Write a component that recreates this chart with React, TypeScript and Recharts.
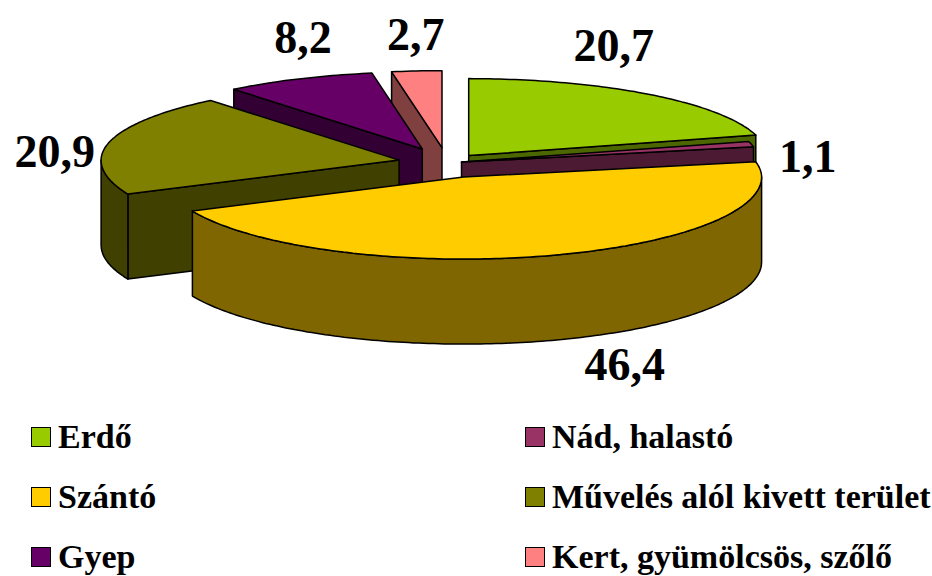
import React from 'react';
import { PieChart, Pie, Legend } from 'recharts';

const categories = ['Erdő', 'Nád, halastó', 'Szántó', 'Művelés alól kivett terület', 'Gyep', 'Kert, gyümölcsös, szőlő'];
const shares = [20.7, 1.1, 46.4, 20.9, 8.2, 2.7];
const valueLabels = ['20,7', '1,1', '46,4', '20,9', '8,2', '2,7'];
const colors = ['#99CC00', '#993366', '#FFCC00', '#808000', '#660066', '#FF8080'];
const sideColors = ['#4C6600', '#4C1A33', '#806600', '#404000', '#330033', '#804040'];

const data = categories.map((name, i) => ({ name, value: shares[i] }));

// slices painted back to front so the front slab covers the rest
const DRAW_ORDER = [5, 4, 3, 0, 1, 2];

// 3d look, as fractions of the outer radius
const TILT_TOP = 77 / 298;
const TILT_BOTTOM = 82 / 298;
const DEPTH = 85 / 298;
// each slice is pulled out on its own, like in the excel original
const EXPLODE = [0.12, 0.05, 0.18, 0.165, 0.2, 0.2];

// value labels sit a bit outside the rim, then get nudged like excel does
const LABEL_GAP = 40;
const LABEL_NUDGE = [[-59.5, -13.6], [17.5, 22.3], [56.8, -18.7], [-15.2, 18.4], [20.8, -1.2], [2.4, 8.2]];

const FONT = '"Liberation Serif", "Times New Roman", Times, serif';
const rad = (d: number) => (d * Math.PI) / 180;

const toPath = (pts: number[][]) =>
  pts.map((p, i) => `${i === 0 ? 'M' : 'L'}${p[0].toFixed(1)},${p[1].toFixed(1)}`).join(' ') + ' Z';

const renderSlice = (only: number) => (props: any) => {
  if (props.index !== only) return <g />;
  const { cx, cy, outerRadius: r, startAngle: sa, endAngle: ea, midAngle: mid } = props;
  const ryT = r * TILT_TOP;
  const ryB = r * TILT_BOTTOM;
  const depth = r * DEPTH;
  const ms = Math.sin(rad(mid));
  const ox = EXPLODE[only] * r * Math.cos(rad(mid));
  const oy = -EXPLODE[only] * (ms > 0 ? ryT : ryB) * ms;

  const pt = (a: number, k: number, dz = 0) => {
    const s = Math.sin(rad(a));
    return [cx + ox + k * r * Math.cos(rad(a)), cy + oy - k * (s > 0 ? ryT : ryB) * s + dz];
  };
  const arc = (a1: number, a2: number, dz = 0) => {
    const n = Math.max(2, Math.ceil(Math.abs(a2 - a1)) + 1);
    const out: number[][] = [];
    for (let i = 0; i < n; i++) out.push(pt(a1 + ((a2 - a1) * i) / (n - 1), 1, dz));
    return out;
  };

  const V = pt(0, 0);
  const Vd = pt(0, 0, depth);
  const stroke = { stroke: '#000', strokeWidth: 1.5, strokeLinejoin: 'round' as const };
  const parts: React.ReactNode[] = [];

  // radial walls that face the viewer
  if (Math.cos(rad(sa)) < -1e-6) {
    parts.push(<path key="ws" d={toPath([V, pt(sa, 1), pt(sa, 1, depth), Vd])} fill={sideColors[only]} {...stroke} />);
  }
  if (Math.cos(rad(ea)) > 1e-6) {
    parts.push(<path key="we" d={toPath([V, pt(ea, 1), pt(ea, 1, depth), Vd])} fill={sideColors[only]} {...stroke} />);
  }
  // front part of the rim
  const hi = Math.min(sa, 0);
  const lo = Math.max(ea, -180);
  if (hi > lo) {
    const top = arc(hi, lo);
    const bottom = arc(lo, hi, depth);
    parts.push(<path key="rim" d={toPath([...top, ...bottom])} fill={sideColors[only]} {...stroke} />);
  }
  // top face
  parts.push(<path key="top" d={toPath([V, ...arc(sa, ea)])} fill={colors[only]} {...stroke} />);

  const front = ms < 0;
  const lx = V[0] + (r + LABEL_GAP) * Math.cos(rad(mid)) + LABEL_NUDGE[only][0];
  const ly = V[1] - ((front ? ryB : ryT) + 45) * ms + (front ? depth : 0) + 16 + LABEL_NUDGE[only][1];
  parts.push(
    <text key="lbl" x={lx} y={ly} textAnchor="middle" style={{ fontFamily: FONT }} fontWeight="bold" fontSize={46} fill="#000">
      {valueLabels[only]}
    </text>
  );
  return <g>{parts}</g>;
};

const LegendBox = () => (
  <div style={{ position: 'relative', width: 932, height: 170 }}>
    {categories.map((c, i) => (
      <div
        key={c}
        style={{
          position: 'absolute',
          left: i % 2 === 0 ? 31 : 525,
          top: Math.floor(i / 2) * 60,
          height: 60,
          display: 'flex',
          alignItems: 'center',
          fontFamily: FONT,
          fontWeight: 'bold',
          fontSize: 34,
          color: '#000',
          whiteSpace: 'nowrap',
        }}
      >
        <span style={{ display: 'inline-block', width: 18, height: 18, background: colors[i], border: '1.5px solid #000', marginRight: 7 }} />
        <span>{c}</span>
      </div>
    ))}
  </div>
);

export default function App() {
  return (
    <div style={{ position: 'absolute', left: 0, top: 0, width: 932, height: 576, background: '#fff' }}>
      <PieChart width={932} height={576} margin={{ top: 0, right: 0, bottom: 0, left: 0 }}>
        {DRAW_ORDER.map((idx) => (
          <Pie
            key={idx}
            data={data}
            dataKey="value"
            nameKey="name"
            cx={447}
            cy={163}
            outerRadius={298}
            startAngle={90}
            endAngle={-270}
            fill="none"
            stroke="none"
            legendType={idx === 0 ? 'square' : 'none'}
            labelLine={false}
            label={renderSlice(idx)}
            isAnimationActive={false}
          />
        ))}
        <Legend
          content={() => <LegendBox />}
          wrapperStyle={{ position: 'absolute', left: 0, top: 407, bottom: 'auto', width: 932 }}
        />
      </PieChart>
    </div>
  );
}
